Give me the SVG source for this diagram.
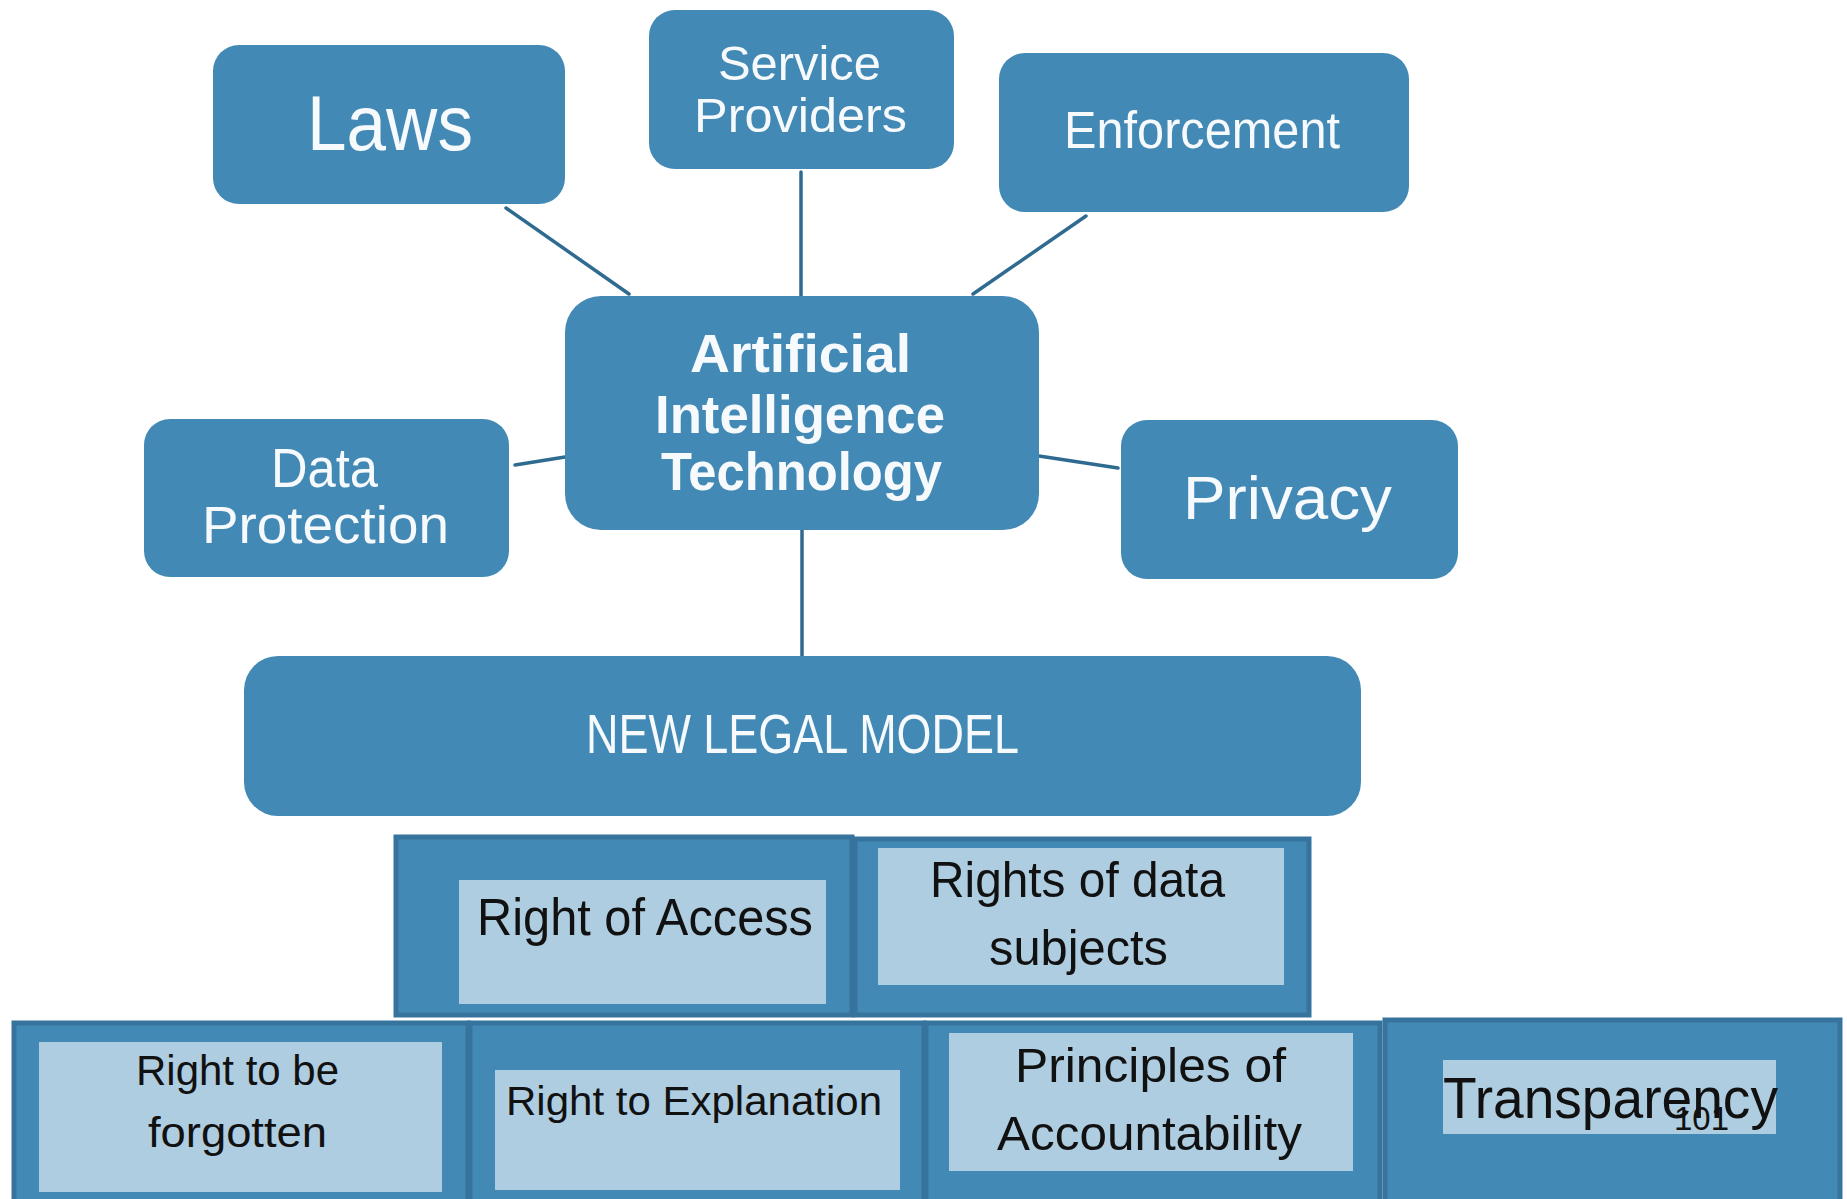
<svg xmlns="http://www.w3.org/2000/svg" width="1847" height="1199" viewBox="0 0 1847 1199">
<style>
.rb{fill:#4289b5;}
.ob{fill:#4289b5;stroke:#36739d;stroke-width:5;}
.ib{fill:#afcde0;}
.wt{fill:#f7fafc;font-family:"Liberation Sans",Arial,sans-serif;text-anchor:start;}
.bt{fill:#111111;font-family:"Liberation Sans",Arial,sans-serif;}
.cn line{stroke:#2f6a90;stroke-width:3.5;stroke-linecap:round;}
</style>
<rect width="1847" height="1199" fill="#ffffff"/>
<g class="cn" id="connectors">
<line x1="506" y1="208" x2="629" y2="294"/>
<line x1="801" y1="172" x2="801" y2="296"/>
<line x1="1086" y1="216" x2="973" y2="294"/>
<line x1="515" y1="465" x2="565" y2="457"/>
<line x1="1039" y1="456" x2="1118" y2="468"/>
<line x1="802" y1="530" x2="802" y2="656"/>
</g>
<g id="laws">
<rect class="rb" x="213" y="45" width="352" height="159" rx="26"/>
<text class="wt" x="307" y="150" font-size="78" textLength="166" lengthAdjust="spacingAndGlyphs">Laws</text>
</g>
<g id="service-providers">
<rect class="rb" x="649" y="10" width="305" height="159" rx="26"/>
<text class="wt" x="718" y="80" font-size="49" textLength="163" lengthAdjust="spacingAndGlyphs">Service</text>
<text class="wt" x="694" y="132" font-size="49" textLength="213" lengthAdjust="spacingAndGlyphs">Providers</text>
</g>
<g id="enforcement">
<rect class="rb" x="999" y="53" width="410" height="159" rx="26"/>
<text class="wt" x="1064" y="148" font-size="51" textLength="276" lengthAdjust="spacingAndGlyphs">Enforcement</text>
</g>
<g id="ai-technology">
<rect class="rb" x="565" y="296" width="474" height="234" rx="36"/>
<text class="wt" x="690" y="372" font-size="54" font-weight="bold" textLength="221" lengthAdjust="spacingAndGlyphs">Artificial</text>
<text class="wt" x="655" y="433" font-size="54" font-weight="bold" textLength="290" lengthAdjust="spacingAndGlyphs">Intelligence</text>
<text class="wt" x="661" y="490" font-size="54" font-weight="bold" textLength="281" lengthAdjust="spacingAndGlyphs">Technology</text>
</g>
<g id="data-protection">
<rect class="rb" x="144" y="419" width="365" height="158" rx="26"/>
<text class="wt" x="271" y="487" font-size="55" textLength="107" lengthAdjust="spacingAndGlyphs">Data</text>
<text class="wt" x="202" y="543" font-size="51" textLength="247" lengthAdjust="spacingAndGlyphs">Protection</text>
</g>
<g id="privacy">
<rect class="rb" x="1121" y="420" width="337" height="159" rx="26"/>
<text class="wt" x="1183" y="519" font-size="62" textLength="209" lengthAdjust="spacingAndGlyphs">Privacy</text>
</g>
<g id="new-legal-model">
<rect class="rb" x="244" y="656" width="1117" height="160" rx="34"/>
<text class="wt" x="586" y="753" font-size="56" textLength="433" lengthAdjust="spacingAndGlyphs">NEW LEGAL MODEL</text>
</g>
<g id="right-of-access">
<rect class="ob" x="396" y="837" width="456" height="178"/>
<rect class="ib" x="459" y="880" width="367" height="124"/>
<text class="bt" x="477" y="935" font-size="52" textLength="336" lengthAdjust="spacingAndGlyphs">Right of Access</text>
</g>
<g id="rights-of-data-subjects">
<rect class="ob" x="855" y="839" width="454" height="176"/>
<rect class="ib" x="878" y="848" width="406" height="137"/>
<text class="bt" x="930" y="897" font-size="50" textLength="295" lengthAdjust="spacingAndGlyphs">Rights of data</text>
<text class="bt" x="989" y="965" font-size="50" textLength="179" lengthAdjust="spacingAndGlyphs">subjects</text>
</g>
<g id="right-to-be-forgotten">
<rect class="ob" x="14" y="1023" width="454" height="185"/>
<rect class="ib" x="39" y="1042" width="403" height="150"/>
<text class="bt" x="136" y="1085" font-size="42" textLength="203" lengthAdjust="spacingAndGlyphs">Right to be</text>
<text class="bt" x="148" y="1147" font-size="42" textLength="179" lengthAdjust="spacingAndGlyphs">forgotten</text>
</g>
<g id="right-to-explanation">
<rect class="ob" x="470" y="1023" width="454" height="185"/>
<rect class="ib" x="495" y="1070" width="405" height="120"/>
<text class="bt" x="506" y="1115" font-size="40" textLength="376" lengthAdjust="spacingAndGlyphs">Right to Explanation</text>
</g>
<g id="principles-of-accountability">
<rect class="ob" x="926" y="1023" width="454" height="185"/>
<rect class="ib" x="949" y="1033" width="404" height="138"/>
<text class="bt" x="1015" y="1082" font-size="48" textLength="271" lengthAdjust="spacingAndGlyphs">Principles of</text>
<text class="bt" x="997" y="1150" font-size="48" textLength="305" lengthAdjust="spacingAndGlyphs">Accountability</text>
</g>
<g id="transparency">
<rect class="ob" x="1385" y="1020" width="455" height="188"/>
<rect class="ib" x="1443" y="1060" width="333" height="74"/>
<text class="bt" x="1443" y="1118" font-size="57" textLength="335" lengthAdjust="spacingAndGlyphs">Transparency</text>
</g>
<text class="bt" x="1674" y="1130" font-size="33" textLength="55" lengthAdjust="spacingAndGlyphs">101</text>
</svg>
